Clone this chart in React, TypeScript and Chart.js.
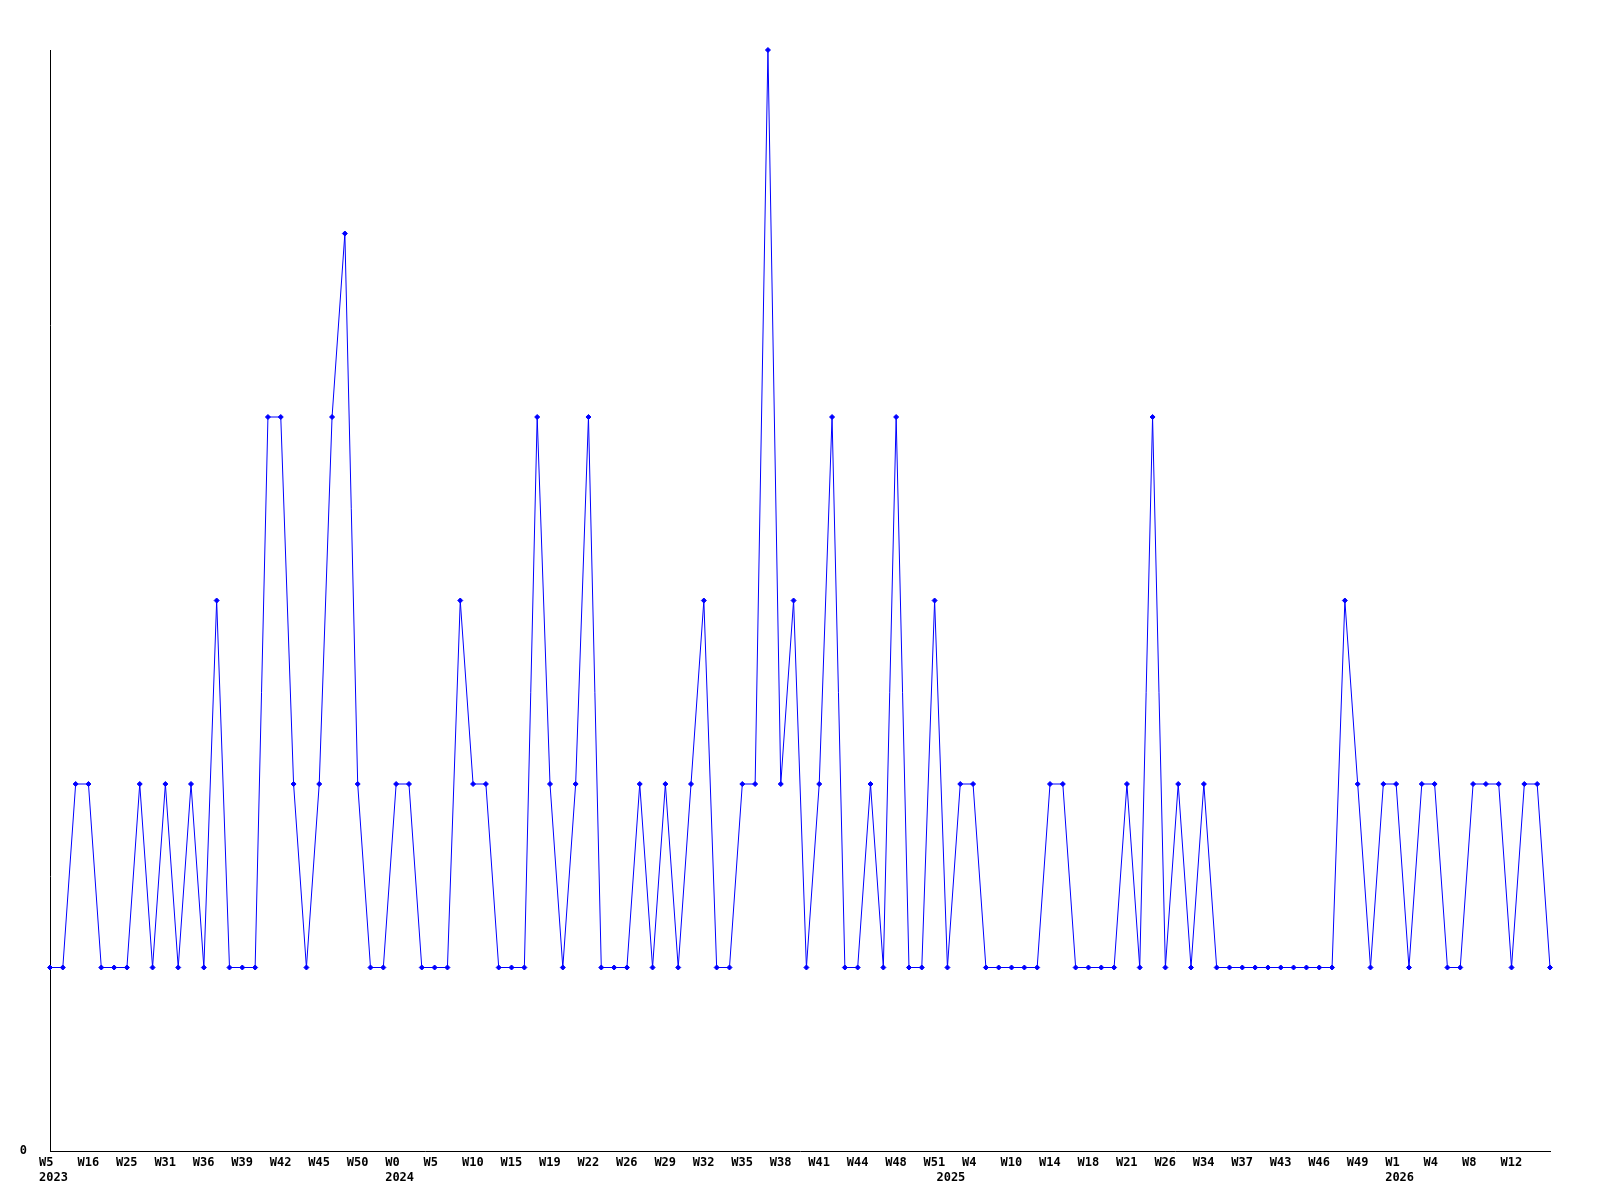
import React, { useEffect, useRef } from "react";
import { Chart, registerables } from "chart.js";

Chart.register(...registerables);

// Week labels per year (only weeks that have data)
const weeks2023 = ["W5","W8","W12","W16","W19","W22","W25","W27","W29","W31","W33","W34","W36","W37","W38","W39","W40","W41","W42","W43","W44","W45","W47","W48","W50","W51","W52"];
const weeks2024 = ["W0","W2","W3","W5","W7","W8","W10","W12","W13","W15","W16","W17","W19","W20","W21","W22","W24","W25","W26","W27","W28","W29","W30","W31","W32","W33","W34","W35","W36","W37","W38","W39","W40","W41","W42","W43","W44","W46","W47","W48","W49","W50","W51"];
const weeks2025 = ["W1","W2","W4","W6","W8","W10","W11","W13","W14","W16","W17","W18","W19","W20","W21","W23","W24","W26","W29","W31","W34","W35","W36","W37","W39","W41","W43","W44","W45","W46","W47","W48","W49","W50","W51"];
const weeks2026 = ["W1","W2","W3","W4","W5","W7","W8","W9","W11","W12","W13","W14","W15"];
const years = ["2023", "2024", "2025", "2026"];

const counts = [
  1,1,2,2,1,1,1,2,1,2,
  1,2,1,3,1,1,1,4,4,2,
  1,2,4,5,2,1,1,2,2,1,
  1,1,3,2,2,1,1,1,4,2,
  1,2,4,1,1,1,2,1,2,1,
  2,3,1,1,2,2,6,2,3,1,
  2,4,1,1,2,1,4,1,1,3,
  1,2,2,1,1,1,1,1,2,2,
  1,1,1,1,2,1,4,1,2,1,
  2,1,1,1,1,1,1,1,1,1,
  1,3,2,1,2,2,1,2,2,1,
  1,2,2,2,1,2,2,1,
];

const yMin = 0;
const yMax = 6;

const weekGroups = [weeks2023, weeks2024, weeks2025, weeks2026];
const categories: string[] = [];
const yearAt: Record<number, string> = {};
weekGroups.forEach((g, gi) => {
  yearAt[categories.length] = years[gi];
  g.forEach((w) => categories.push(w));
});

const FONT = { family: "'DejaVu Sans Mono', monospace", size: 12, weight: "bold" as const, lineHeight: 1.25 };

export default function App() {
  const ref = useRef<HTMLCanvasElement | null>(null);
  useEffect(() => {
    if (!ref.current) return;
    const chart = new Chart(ref.current, {
      type: "line",
      data: {
        labels: categories,
        datasets: [
          {
            data: counts,
            borderColor: "#0000ff",
            backgroundColor: "#0000ff",
            borderWidth: 1,
            pointStyle: "rectRot",
            pointRadius: 2.5,
            pointBorderWidth: 1,
            pointBorderColor: "#0000ff",
            pointBackgroundColor: "#0000ff",
            tension: 0,
            fill: false,
            clip: false,
          } as any,
        ],
      },
      options: {
        responsive: false,
        animation: false,
        devicePixelRatio: 1,
        layout: { padding: { top: 50, right: 50, left: 0, bottom: 0 } },
        plugins: { legend: { display: false }, tooltip: { enabled: false }, title: { display: false } },
        scales: {
          x: {
            type: "category",
            offset: false,
            grid: { display: false, drawTicks: false },
            border: { display: true, color: "#000000", width: 1 },
            afterFit: (s: any) => { s.height = 49; },
            ticks: {
              autoSkip: false,
              maxRotation: 0,
              minRotation: 0,
              align: "start",
              labelOffset: -11,
              padding: 4,
              color: "#000000",
              font: FONT,
              callback: (_v: any, i: number) => {
                const w = i % 3 === 0 && i < categories.length - 1 ? categories[i] : "";
                const y = yearAt[i];
                if (y) return [w, y];
                return w;
              },
            },
          },
          y: {
            min: yMin,
            max: yMax,
            grid: { display: false, drawTicks: false },
            border: { display: true, color: "#000000", width: 1 },
            afterFit: (s: any) => { s.width = 50; },
            ticks: {
              stepSize: 1,
              padding: 23,
              color: "#000000",
              font: FONT,
              callback: (v: any) => (v === 0 ? "0" : null),
            },
          },
        },
      },
    });
    return () => chart.destroy();
  }, []);
  return (
    <div style={{ position: "absolute", left: 0, top: 0, width: 1600, height: 1200, background: "#ffffff" }}>
      <canvas ref={ref} width={1600} height={1200} style={{ width: 1600, height: 1200, display: "block" }} />
    </div>
  );
}
